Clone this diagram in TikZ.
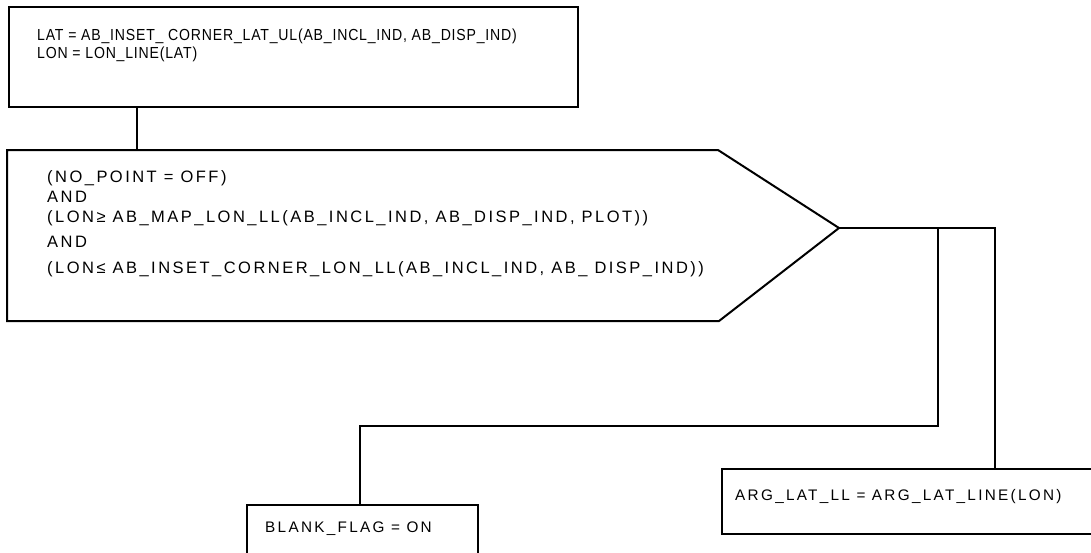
\documentclass[tikz,border=0pt]{standalone}
\usepackage{fontspec}
\usepackage{tikz}
\newfontfamily\flowfont{Liberation Sans}[LetterSpace=15]
\newfontfamily\initfont{Liberation Sans}[FakeStretch=0.88,LetterSpace=5]

\begin{document}
\begin{tikzpicture}[x=1pt, y=-1pt,
    ln/.style={line width=2pt, line join=miter},
    box/.style={draw, rectangle, line width=2pt, anchor=north west, inner sep=0pt},
    txt/.style={anchor=north west, inner sep=0pt, align=left,
        font=\flowfont\fontsize{16.5}{20}\selectfont},
    smalltxt/.style={txt, font=\flowfont\fontsize{15.3}{20}\selectfont}]
    \useasboundingbox (0,0) rectangle (1091,552);
    \clip (0,0) rectangle (1091,552);

    % process boxes
    \node[box, minimum width=569pt, minimum height=100pt] (init) at (8,6) {};
    \node[txt, font=\initfont\fontsize{16}{18}\selectfont] (initlbl) at (37,29)
        {LAT = AB\_INSET\_ CORNER\_LAT\_UL(AB\_INCL\_IND, AB\_DISP\_IND)\\
        LON = LON\_LINE(LAT)};

    % decision
    \coordinate (hextop) at (137,150);
    \coordinate (tip) at (839,228);
    \draw[ln] (7,150) -- (718,150) -- (tip) -- (719,321) -- (7,321) -- cycle;
    \node[txt] (cond) at (47,170) {(NO\_POINT = OFF)\\
        AND\\
        (LON≥ AB\_MAP\_LON\_LL(AB\_INCL\_IND, AB\_DISP\_IND, PLOT))\\[5pt]
        AND\\[6pt]
        (LON≤ AB\_INSET\_CORNER\_LON\_LL(AB\_INCL\_IND, AB\_ DISP\_IND))};

    \node[box, minimum width=231pt, minimum height=70pt] (blank) at (246,504) {};
    \node[smalltxt] (blanklbl) at (265,522) {BLANK\_FLAG = ON};

    \node[box, minimum width=400pt, minimum height=65pt] (arg) at (721,468) {};
    \node[smalltxt] (arglbl) at (735,489) {ARG\_LAT\_LL = ARG\_LAT\_LINE(LON)};

    % connectors
    \coordinate (split) at (938,228);
    \coordinate (bend) at (938,426);
    \coordinate (blankin) at (360,504);
    \coordinate (argin) at (995,468);

    \draw[ln] (init.south -| hextop) -- (hextop);
    \draw[ln] (tip) -| (argin);
    \draw[ln] (split) -- (bend) -| (blankin);
\end{tikzpicture}
\end{document}
